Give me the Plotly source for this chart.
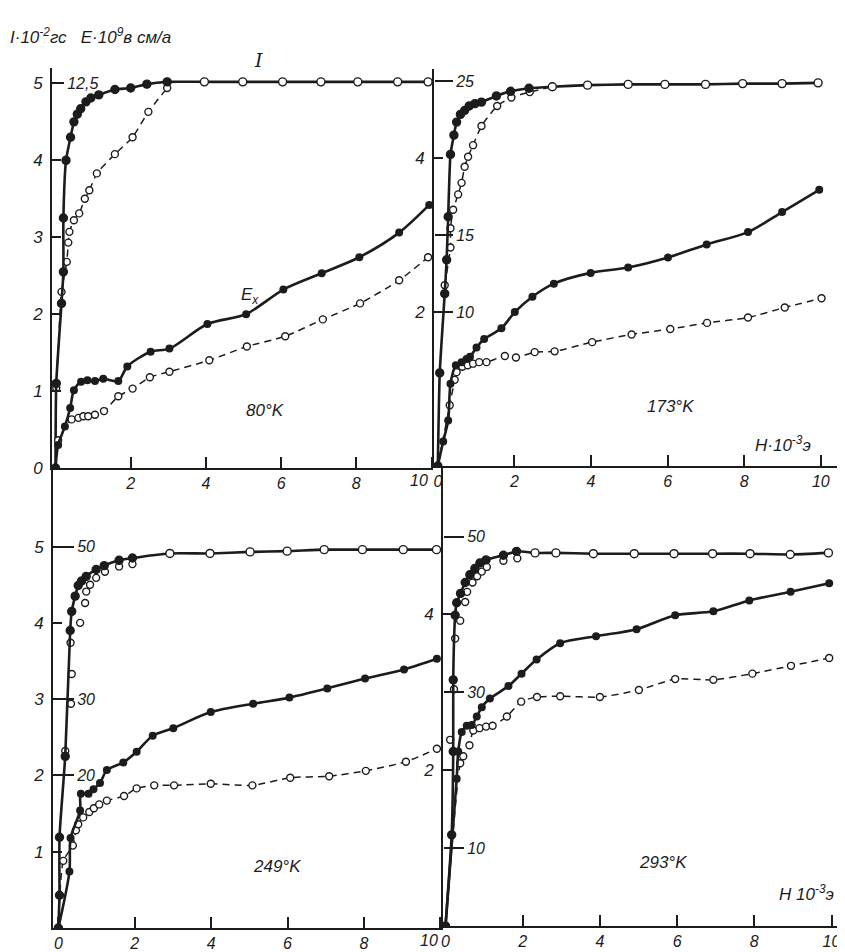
import plotly.graph_objects as go

# ================= DATA (H in 10^3 Oe, I in 10^2 G, E in 10^9 V cm/A) =================
# ---- 80 K ----
h80_I_fill = [0, 0.02, 0.16, 0.21, 0.21, 0.28, 0.40, 0.49, 0.58, 0.67, 0.81, 0.94, 1.15, 1.58, 2.00, 2.43, 2.97]
I80_fill = [0, 1.10, 2.14, 2.55, 3.25, 4.00, 4.30, 4.50, 4.60, 4.67, 4.76, 4.81, 4.85, 4.92, 4.94, 4.99, 5.02]
h80_I_sat = [3.96, 4.98, 6.04, 7.06, 8.04, 9.10, 9.91]
I80_sat = [5.02, 5.02, 5.02, 5.02, 5.02, 5.02, 5.02]
h80_I_open = [0.02, 0.16, 0.30, 0.34, 0.37, 0.49, 0.63, 0.78, 0.90, 1.10, 1.58, 2.05, 2.47, 2.97]
I80_open = [1.04, 2.29, 2.68, 2.93, 3.07, 3.22, 3.31, 3.50, 3.61, 3.83, 4.08, 4.30, 4.63, 4.94]
h80_E_fill = [0, 0.07, 0.25, 0.39, 0.49, 0.68, 0.85, 1.05, 1.27, 1.67, 1.91, 2.53, 3.03, 4.04, 5.07, 6.06, 7.08, 8.08, 9.14, 9.94]
E80_fill = [0, 0.75, 1.35, 1.95, 2.53, 2.80, 2.85, 2.83, 2.90, 2.83, 3.30, 3.78, 3.88, 4.68, 5.00, 5.80, 6.33, 6.85, 7.65, 8.55]
h80_E_open = [0, 0.07, 0.43, 0.61, 0.74, 0.87, 1.05, 1.29, 1.67, 2.05, 2.51, 3.03, 4.09, 5.09, 6.11, 7.11, 8.10, 9.14, 9.91]
E80_open = [0, 0.90, 1.58, 1.63, 1.68, 1.68, 1.73, 1.85, 2.33, 2.58, 2.95, 3.13, 3.50, 3.95, 4.28, 4.83, 5.35, 6.10, 6.85]

# ---- 173 K ----
h173_I_fill = [0, 0.05, 0.18, 0.23, 0.27, 0.33, 0.42, 0.49, 0.59, 0.70, 0.82, 0.97, 1.14, 1.53, 1.90, 2.38]
I173_fill = [0, 1.21, 2.24, 2.68, 3.24, 4.05, 4.30, 4.47, 4.57, 4.62, 4.68, 4.71, 4.73, 4.81, 4.87, 4.91]
h173_I_sat = [2.99, 3.91, 4.97, 5.93, 6.99, 7.96, 8.99, 9.93]
I173_sat = [4.93, 4.95, 4.96, 4.96, 4.96, 4.97, 4.97, 4.98]
h173_I_open = [0.18, 0.33, 0.33, 0.40, 0.53, 0.62, 0.70, 0.79, 0.92, 1.14, 1.55, 1.92, 2.40, 2.99]
I173_open = [2.35, 2.84, 3.09, 3.33, 3.53, 3.68, 3.89, 4.02, 4.17, 4.42, 4.68, 4.79, 4.86, 4.93]
h173_E_fill = [0, 0.14, 0.27, 0.33, 0.47, 0.62, 0.75, 0.84, 1.01, 1.21, 1.66, 2.01, 2.47, 3.03, 3.99, 4.97, 6.01, 7.02, 8.10, 8.99, 9.96]
E173_fill = [0, 1.60, 2.95, 5.35, 6.55, 6.75, 6.95, 7.10, 7.70, 8.25, 8.95, 10.0, 11.0, 11.85, 12.55, 12.9, 13.55, 14.4, 15.2, 16.5, 17.95]
h173_E_open = [0, 0.31, 0.44, 0.49, 0.64, 0.78, 0.92, 1.08, 1.27, 1.75, 2.04, 2.53, 3.05, 4.03, 5.06, 6.07, 7.03, 8.10, 9.06, 10.02]
E173_open = [0, 3.95, 5.60, 6.10, 6.45, 6.55, 6.65, 6.75, 6.75, 7.15, 7.05, 7.40, 7.45, 8.05, 8.55, 8.90, 9.30, 9.65, 10.3, 10.9]

# ---- 249 K ----
h249_I_fill = [0, 0.03, 0.03, 0.18, 0.31, 0.35, 0.44, 0.52, 0.61, 0.73, 0.99, 1.20, 1.59, 1.94]
I249_fill = [0, 0.43, 1.19, 2.25, 3.90, 4.15, 4.35, 4.49, 4.55, 4.61, 4.70, 4.75, 4.82, 4.85]
h249_I_sat = [2.92, 3.97, 5.02, 5.99, 6.96, 7.96, 9.03, 9.90]
I249_sat = [4.91, 4.91, 4.93, 4.94, 4.96, 4.96, 4.96, 4.96]
h249_I_open = [0.18, 0.33, 0.35, 0.32, 0.57, 0.70, 0.73, 0.83, 0.99, 1.22, 1.59, 1.94]
I249_open = [2.32, 2.94, 3.33, 3.74, 4.00, 4.26, 4.41, 4.50, 4.59, 4.67, 4.74, 4.77]
h249_E_fill = [0, 0.29, 0.32, 0.57, 0.59, 0.79, 0.92, 1.09, 1.27, 1.70, 2.05, 2.47, 3.01, 3.99, 5.10, 6.05, 7.04, 8.03, 9.05, 9.91]
E249_fill = [0, 7.4, 11.8, 15.4, 17.6, 17.6, 18.2, 19.0, 20.7, 21.7, 23.1, 25.2, 26.2, 28.3, 29.4, 30.2, 31.4, 32.7, 33.9, 35.3]
h249_E_open = [0, 0.13, 0.38, 0.46, 0.52, 0.65, 0.81, 0.93, 1.07, 1.27, 1.72, 2.05, 2.51, 3.03, 3.99, 5.08, 6.07, 7.09, 8.05, 9.10, 9.91]
E249_open = [0, 8.8, 10.8, 12.8, 13.6, 14.5, 15.2, 15.7, 16.2, 16.7, 17.3, 18.3, 18.7, 18.7, 18.9, 18.7, 19.7, 19.9, 20.6, 21.8, 23.5]

# ---- 293 K ----
h293_I_fill = [0, 0.16, 0.20, 0.20, 0.25, 0.29, 0.39, 0.51, 0.63, 0.76, 0.89, 1.05, 1.50, 1.84]
I293_fill = [0, 1.17, 2.24, 3.16, 3.99, 4.15, 4.27, 4.41, 4.51, 4.59, 4.66, 4.70, 4.76, 4.81]
h293_I_sat = [2.32, 2.86, 3.83, 4.89, 5.92, 6.92, 7.89, 8.93, 9.92]
I293_sat = [4.79, 4.79, 4.78, 4.78, 4.78, 4.78, 4.78, 4.77, 4.79]
h293_I_open = [0.12, 0.22, 0.25, 0.38, 0.51, 0.56, 0.70, 0.82, 0.94, 1.07, 1.50, 1.86]
I293_open = [2.39, 3.04, 3.69, 3.92, 4.16, 4.29, 4.41, 4.49, 4.55, 4.61, 4.69, 4.72]
h293_E_fill = [0, 0.29, 0.33, 0.42, 0.55, 0.68, 0.81, 0.94, 1.15, 1.63, 1.97, 2.36, 2.97, 3.90, 4.95, 5.95, 6.94, 7.87, 8.94, 9.94]
E293_fill = [0, 18.9, 22.4, 24.9, 25.7, 25.8, 26.9, 28.1, 29.2, 30.8, 32.4, 34.2, 36.3, 37.2, 38.1, 39.9, 40.4, 41.8, 42.9, 44.0]
h293_E_open = [0, 0.38, 0.46, 0.62, 0.72, 0.88, 1.05, 1.22, 1.59, 1.96, 2.37, 2.97, 4.00, 5.01, 5.95, 6.94, 7.95, 8.95, 9.94]
E293_open = [0, 20.9, 21.8, 23.2, 25.1, 25.4, 25.6, 25.7, 26.9, 28.8, 29.4, 29.5, 29.4, 30.3, 31.7, 31.6, 32.4, 33.4, 34.4]

# ---- tick labels ----
x_ticks_tl = [2, 4, 6, 8, 10]
x_text_tl = ["2", "4", "6", "8", ""]          # "10" placed as annotation (hand-set position)
x_ticks = [0, 2, 4, 6, 8, 10]
x_text_tr = ["0", "2", "4", "6", "8", "10"]
x_text_bl = ["0", "2", "4", "6", "8", ""]
x_text_br = ["0", "2", "4", "6", "8", "10"]
I_ticks_tl = [0, 1, 2, 3, 4, 5]
I_ticks_tr = [2, 4]
I_ticks_bl = [1, 2, 3, 4, 5]
I_ticks_br = [2, 4]
E_ticks_tl = [12.5]
E_ticks_tl_text = ["12,5"]
E_ticks_tr = [10, 15, 25]
E_ticks_bl = [20, 30, 50]
E_ticks_br = [10, 30, 50]
temps = ["80°K", "173°K", "249°K", "293°K"]

# ================= LAYOUT / STYLE =================
WIN_W, WIN_H = 845, 952
OFF = 8                      # default page body margin
W, H = WIN_W - OFF, WIN_H - OFF
INK = "#1c1c1c"
FONT = "Liberation Sans"


def px(xp):
    return (xp - OFF) / W


def py(yp):
    return 1 - (yp - OFF) / H


panels = [
    dict(hIf=h80_I_fill, If=I80_fill, hIs=h80_I_sat, Is=I80_sat, hIo=h80_I_open, Io=I80_open, Io_dash=True,
         hEf=h80_E_fill, Ef=E80_fill, hEo=h80_E_open, Eo=E80_open, k=2.5, elen=11,
         xdom=[52, 433], ydom=[468, 68], xr=[-0.093, 10.04], yr=[0, 5.2],
         xt=x_ticks_tl, xtt=x_text_tl, It=I_ticks_tl, Et=E_ticks_tl, Ett=E_ticks_tl_text),
    dict(hIf=h173_I_fill, If=I173_fill, hIs=h173_I_sat, Is=I173_sat, hIo=h173_I_open, Io=I173_open, Io_dash=True,
         hEf=h173_E_fill, Ef=E173_fill, hEo=h173_E_open, Eo=E173_open, k=5, elen=18,
         xdom=[434, 838], ydom=[466, 69], xr=[-0.10, 10.45], yr=[0, 5.16],
         xt=x_ticks, xtt=x_text_tr, It=I_ticks_tr, Et=E_ticks_tr, Ett=[str(v) for v in E_ticks_tr]),
    dict(hIf=h249_I_fill, If=I249_fill, hIs=h249_I_sat, Is=I249_sat, hIo=h249_I_open, Io=I249_open, Io_dash=False,
         hEf=h249_E_fill, Ef=E249_fill, hEo=h249_E_open, Eo=E249_open, k=10, elen=20,
         xdom=[53, 443], ydom=[928, 468], xr=[-0.14, 10.07], yr=[0, 6.03],
         xt=x_ticks, xtt=x_text_bl, It=I_ticks_bl, Et=E_ticks_bl, Ett=[str(v) for v in E_ticks_bl]),
    dict(hIf=h293_I_fill, If=I293_fill, hIs=h293_I_sat, Is=I293_sat, hIo=h293_I_open, Io=I293_open, Io_dash=False,
         hEf=h293_E_fill, Ef=E293_fill, hEo=h293_E_open, Eo=E293_open, k=10, elen=20,
         xdom=[443, 840], ydom=[926, 468], xr=[-0.065, 10.22], yr=[0, 5.88],
         xt=x_ticks, xtt=x_text_br, It=I_ticks_br, Et=E_ticks_br, Ett=[str(v) for v in E_ticks_br]),
]

fig = go.Figure()
layout = {}
tickfont = dict(family=FONT, size=17, color=INK, style="italic")
xtickfont = dict(family=FONT, size=16, color=INK, style="italic")

for i, p in enumerate(panels):
    n = i + 1
    xa = "x" if n == 1 else f"x{n}"
    ya = "y" if n == 1 else f"y{n}"
    ye = f"y{n + 4}"
    xa_key = "xaxis" if n == 1 else f"xaxis{n}"
    ya_key = "yaxis" if n == 1 else f"yaxis{n}"
    ye_key = f"yaxis{n + 4}"

    layout[xa_key] = dict(
        domain=[px(p["xdom"][0]), px(p["xdom"][1])], anchor=ya, range=p["xr"],
        showline=True, linecolor=INK, linewidth=2, mirror=False, automargin=False,
        ticks="inside", ticklen=11, tickwidth=1.6, tickcolor=INK,
        tickvals=p["xt"], ticktext=p["xtt"],
        tickfont=xtickfont, showgrid=False, zeroline=False, fixedrange=True,
    )
    layout[ya_key] = dict(
        domain=[py(p["ydom"][0]), py(p["ydom"][1])], anchor=xa, range=p["yr"],
        showline=True, linecolor=INK, linewidth=2, mirror=False, automargin=False,
        ticks="inside", ticklen=9, tickwidth=1.6, tickcolor=INK,
        tickvals=p["It"], ticktext=[str(v) for v in p["It"]], ticklabelstandoff=4,
        tickfont=tickfont, showgrid=False, zeroline=False, fixedrange=True,
    )
    # E scale: drawn on the same vertical line, ticks and labels pointing right
    layout[ye_key] = dict(
        overlaying=ya, anchor="free", position=px(p["xdom"][0]), side="right",
        automargin=False, autoshift=False,
        range=[p["yr"][0] * p["k"], p["yr"][1] * p["k"]],
        showline=False, ticks="outside", ticklen=p["elen"], tickwidth=1.6, tickcolor=INK,
        tickvals=p["Et"], ticktext=p["Ett"],
        tickfont=dict(family=FONT, size=16, color=INK, style="italic"),
        showgrid=False, zeroline=False, fixedrange=True,
    )

    # E open (dashed)
    fig.add_trace(go.Scatter(
        x=p["hEo"], y=p["Eo"], xaxis=xa, yaxis=ye, mode="lines+markers",
        line=dict(color=INK, width=1.5, dash="7px,5px", shape="spline", smoothing=0.6),
        marker=dict(symbol="circle", size=7, color="white", line=dict(color=INK, width=1.4)),
        showlegend=False, hoverinfo="skip"))
    # E filled (solid)
    fig.add_trace(go.Scatter(
        x=p["hEf"], y=p["Ef"], xaxis=xa, yaxis=ye, mode="lines+markers",
        line=dict(color=INK, width=2.6, shape="spline", smoothing=0.8),
        marker=dict(symbol="circle", size=8, color=INK),
        showlegend=False, hoverinfo="skip"))
    # I open low-field
    fig.add_trace(go.Scatter(
        x=p["hIo"], y=p["Io"], xaxis=xa, yaxis=ya,
        mode="lines+markers" if p["Io_dash"] else "markers",
        line=dict(color=INK, width=1.5, dash="7px,5px", shape="spline", smoothing=0.5),
        marker=dict(symbol="circle", size=7, color="white", line=dict(color=INK, width=1.4)),
        showlegend=False, hoverinfo="skip"))
    # I main curve: filled points then open points at saturation
    hx = p["hIf"] + p["hIs"]
    iy = p["If"] + p["Is"]
    cols = [INK] * len(p["hIf"]) + ["white"] * len(p["hIs"])
    fig.add_trace(go.Scatter(
        x=hx, y=iy, xaxis=xa, yaxis=ya, mode="lines+markers",
        line=dict(color=INK, width=2.6, shape="spline", smoothing=0.5),
        marker=dict(symbol="circle", size=8, color=cols, line=dict(color=INK, width=1.4)),
        showlegend=False, hoverinfo="skip"))

afont = dict(family=FONT, size=17, color=INK, style="italic")
annotations = [
    dict(x=px(8), y=py(36), text="I·10<sup>-2</sup>гс   E·10<sup>9</sup>в см/а", xanchor="left"),
    dict(x=px(258), y=py(60), text="I", font=dict(family="DejaVu Serif", size=19, color=INK, style="italic")),
    dict(x=px(250), y=py(296), text="E<sub>x</sub>"),
    dict(x=px(265), y=py(410), text=temps[0]),
    dict(x=px(670), y=py(407), text=temps[1]),
    dict(x=px(277), y=py(866), text=temps[2]),
    dict(x=px(663), y=py(862), text=temps[3]),
    dict(x=px(783), y=py(444), text="H·10<sup>-3</sup>э"),
    dict(x=px(806), y=py(893), text="H 10<sup>-3</sup>э"),
    dict(x=px(419), y=py(480), text="10", font=xtickfont),
    dict(x=px(429), y=py(940), text="10", font=xtickfont),
]
for a in annotations:
    a.setdefault("font", afont)
    a.update(xref="paper", yref="paper", showarrow=False)
    a.setdefault("xanchor", "center")
    a.setdefault("yanchor", "middle")

layout.update(
    width=W, height=H, margin=dict(l=0, r=0, t=0, b=0, autoexpand=False),
    paper_bgcolor="white", plot_bgcolor="rgba(0,0,0,0)",
    annotations=annotations, showlegend=False,
)
fig.update_layout(**layout)
fig.write_html("out.html")
